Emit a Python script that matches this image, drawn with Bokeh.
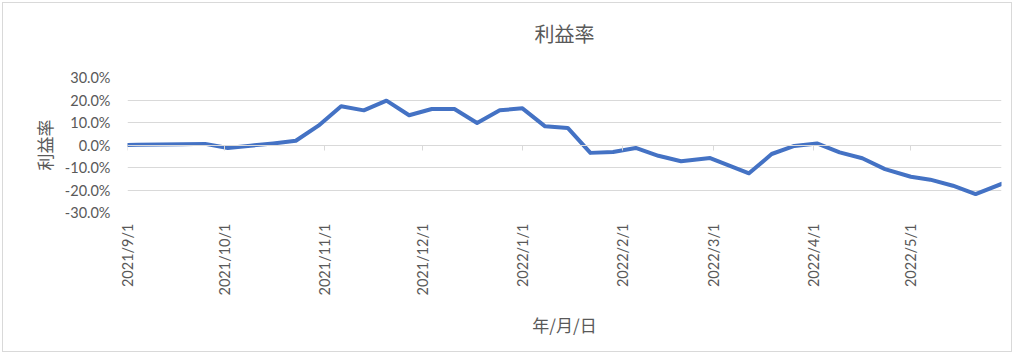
import math
import pandas as pd
from bokeh.plotting import figure
from bokeh.models import (ColumnDataSource, Range1d, FixedTicker, NumeralTickFormatter,
                          CustomJSTickFormatter, DatetimeAxis, Title)
from bokeh.embed import file_html
from bokeh.resources import INLINE

# ---- data ----
dates = ["2021-09-01", "2021-09-04", "2021-09-11", "2021-09-18", "2021-09-25",
         "2021-10-02", "2021-10-09", "2021-10-16", "2021-10-23", "2021-10-30",
         "2021-11-06", "2021-11-13", "2021-11-20", "2021-11-27", "2021-12-04",
         "2021-12-11", "2021-12-18", "2021-12-25", "2022-01-01", "2022-01-08",
         "2022-01-15", "2022-01-22", "2022-01-29", "2022-02-05", "2022-02-12",
         "2022-02-19", "2022-02-28", "2022-03-12", "2022-03-19", "2022-03-26",
         "2022-04-02", "2022-04-09", "2022-04-16", "2022-04-23", "2022-05-01",
         "2022-05-07", "2022-05-14", "2022-05-21", "2022-05-29"]
profit_pct = [0.0, 0.1, 0.2, 0.3, 0.5,
              -1.3, -0.3, 0.7, 1.9, 8.6,
              17.2, 15.4, 19.7, 13.2, 16.0,
              16.0, 9.8, 15.4, 16.3, 8.3,
              7.6, -3.5, -3.1, -1.3, -4.8,
              -7.2, -5.8, -12.6, -4.0, -0.4,
              0.7, -3.3, -5.9, -10.7, -14.1,
              -15.4, -18.1, -21.8, -17.3]
month_ticks = ["2021-09-01", "2021-10-01", "2021-11-01", "2021-12-01", "2022-01-01",
               "2022-02-01", "2022-03-01", "2022-04-01", "2022-05-01"]
y_ticks_pct = [-30, -20, -10, 0, 10, 20, 30]

title_text = "利益率"
y_title = "利益率"
x_title = "年/月/日"

# ---- build ----
x = pd.to_datetime(dates)
src = ColumnDataSource(dict(x=x, y=[v / 100 for v in profit_pct]))
tick_ms = [int(pd.Timestamp(d).value // 10**6) for d in month_ticks]

GRAY = "#595959"
GRID = "#d9d9d9"
CJK = "Noto Sans CJK JP"
NUM = "Lato"

p = figure(width=1010, height=350, x_axis_type="datetime",
           output_backend="svg", toolbar_location=None,
           x_range=Range1d(x[0], x[-1]), y_range=Range1d(-0.30, 0.30),
           min_border_left=124, min_border_right=12, min_border_top=74,
           min_border_bottom=141)
p.styles = {"margin": "2px 0 0 2px", "border": "1px solid #d9d9d9"}
p.outline_line_color = None
p.background_fill_color = "white"
p.border_fill_color = "white"

# spacer between frame and title (first added sits closest to the frame)
spacer = Title(text=" ", text_font_size="20px", standoff=5)
p.add_layout(spacer, "above")
t = Title(text=title_text, align="center", vertical_align="middle", text_font=CJK,
          text_font_size="20px", text_color=GRAY, text_font_style="normal", standoff=0)
p.add_layout(t, "above")

p.line("x", "y", source=src, line_color="#4472C4", line_width=4,
       line_join="round", line_cap="round")

# y axis
ya = p.yaxis[0]
ya.ticker = FixedTicker(ticks=[v / 100 for v in y_ticks_pct])
ya.formatter = NumeralTickFormatter(format="0.0%")
ya.axis_line_color = None
ya.major_tick_line_color = None
ya.minor_tick_line_color = None
ya.major_tick_out = 0
ya.major_tick_in = 0
ya.major_label_standoff = 17
ya.major_label_text_font = NUM
ya.major_label_text_font_size = "14.5px"
ya.major_label_text_color = GRAY
ya.axis_label = y_title
ya.axis_label_text_font = CJK
ya.axis_label_text_font_size = "17px"
ya.axis_label_text_font_style = "normal"
ya.axis_label_text_color = GRAY
ya.axis_label_standoff = 5

p.ygrid.ticker = FixedTicker(ticks=[v / 100 for v in y_ticks_pct])
p.ygrid.grid_line_color = GRID
p.ygrid.grid_line_width = 1
p.xgrid.grid_line_color = None

# x axis (labels at bottom)
fmt = CustomJSTickFormatter(code="""
const d = new Date(tick);
return d.getUTCFullYear() + "/" + (d.getUTCMonth() + 1) + "/" + d.getUTCDate();
""")
xa = p.xaxis[0]
xa.ticker = FixedTicker(ticks=tick_ms)
xa.formatter = fmt
xa.axis_line_color = None
xa.major_tick_line_color = None
xa.minor_tick_line_color = None
xa.major_tick_out = 0
xa.major_tick_in = 0
xa.major_label_orientation = math.pi / 2
xa.major_label_standoff = 11
xa.major_label_text_font = NUM
xa.major_label_text_font_size = "14.5px"
xa.major_label_text_color = GRAY
xa.axis_label = x_title
xa.axis_label_text_font = CJK
xa.axis_label_text_font_size = "17px"
xa.axis_label_text_font_style = "normal"
xa.axis_label_text_color = GRAY
xa.axis_label_standoff = 14

# axis line + tick marks at y = 0
zero_axis = DatetimeAxis(fixed_location=0, ticker=FixedTicker(ticks=tick_ms),
                         formatter=CustomJSTickFormatter(code="return '';"),
                         axis_line_color=GRID, major_tick_line_color=GRID,
                         minor_tick_line_color=None, major_tick_out=5,
                         major_tick_in=0, major_label_standoff=0,
                         major_label_text_font_size="1px")
p.add_layout(zero_axis, "below")

open("out.html", "w").write(file_html(p, INLINE))
